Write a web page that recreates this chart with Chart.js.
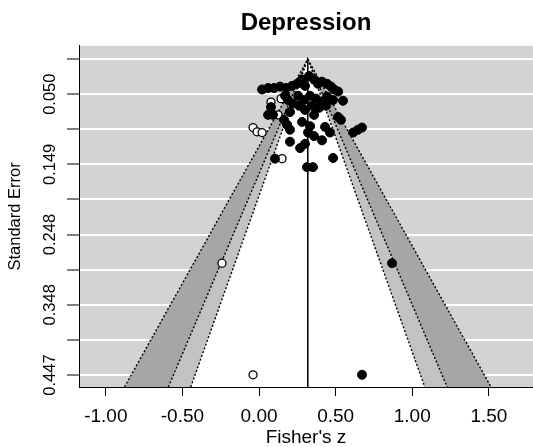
<!DOCTYPE html>
<html>
<head>
<meta charset="utf-8">
<script src="https://cdn.jsdelivr.net/npm/chart.js@4"></script>
<style>
html,body{margin:0;padding:0;background:#fff;}
</style>
</head>
<body>
<canvas id="Chart" width="533" height="447"></canvas>
<script>
// observed studies (Fisher's z / standard error)
const obsZ = [0.020, 0.059, 0.098, 0.137, 0.176, 0.215, 0.248, 0.281, 0.300, 0.326,
	0.359, 0.385, 0.411, 0.444, 0.470, 0.490, 0.516, 0.548, 0.078, 0.170,
	0.189, 0.222, 0.202, 0.255, 0.294, 0.333, 0.372, 0.411, 0.444, 0.483,
	0.346, 0.392, 0.437, 0.300, 0.261, 0.516, 0.359, 0.059, 0.091, 0.183,
	0.281, 0.333, 0.320, 0.359, 0.431, 0.463, 0.535, 0.614, 0.646, 0.672,
	0.202, 0.268, 0.300, 0.104, 0.483, 0.313, 0.352, 0.202, 0.163, 0.411,
	0.868, 0.672];
const obsSE = [0.043, 0.041, 0.041, 0.039, 0.041, 0.038, 0.035, 0.029, 0.038, 0.024,
	0.029, 0.035, 0.032, 0.035, 0.039, 0.043, 0.046, 0.059, 0.068, 0.052,
	0.058, 0.063, 0.075, 0.052, 0.058, 0.052, 0.056, 0.061, 0.053, 0.058,
	0.066, 0.069, 0.066, 0.072, 0.066, 0.082, 0.079, 0.079, 0.079, 0.093,
	0.089, 0.095, 0.104, 0.109, 0.096, 0.104, 0.086, 0.104, 0.100, 0.097,
	0.117, 0.126, 0.120, 0.141, 0.140, 0.153, 0.153, 0.100, 0.086, 0.115,
	0.289, 0.447];
// imputed studies (trim and fill)
const fillZ = [0.078, 0.144, 0.124, -0.039, -0.013, 0.020, 0.150, -0.242, -0.039];
const fillSE = [0.061, 0.056, 0.079, 0.097, 0.103, 0.104, 0.141, 0.289, 0.447];

const center = 0.318;
// 90%, 95%, 99% contours
const contourZ = [1.645, 1.96, 2.576];
const contourColors = ['#ffffff', '#c2c2c2', '#a6a6a6'];

const xTicks = [-1.0, -0.5, 0.0, 0.5, 1.0, 1.5];
const yTicks = [0, 0.0497, 0.0994, 0.1491, 0.1988, 0.2485, 0.2982, 0.3479, 0.3976, 0.4473];
const yTickLabels = ['', '0.050', '', '0.149', '', '0.248', '', '0.348', '', '0.447'];

const xMin = -1.175, xMax = 1.788;
const yMin = -0.0188, yMax = 0.4643;

Chart.defaults.font.family = "'Liberation Sans', Arial, sans-serif";
Chart.defaults.color = '#000';

//灰色の背景
const plotBg = {
	id: 'plotBg',
	beforeDraw(chart) {
		const {ctx, chartArea: a} = chart;
		ctx.save();
		ctx.fillStyle = '#d3d3d3';
		ctx.fillRect(a.left, a.top, a.right - a.left, a.bottom - a.top);
		ctx.restore();
	}
};

let datasets = [];
datasets.push({
	label: 'observed',
	data: obsZ.map((z, i) => ({x: z, y: obsSE[i]})),
	backgroundColor: '#000',
	borderColor: '#000',
	borderWidth: 1,
	pointRadius: 4.5,
	order: 0,
});
datasets.push({
	label: 'imputed',
	data: fillZ.map((z, i) => ({x: z, y: fillSE[i]})),
	backgroundColor: '#fff',
	borderColor: '#000',
	borderWidth: 1.3,
	pointRadius: 4,
	order: 0,
});
datasets.push({
	label: 'ref',
	data: [{x: center, y: 0}, {x: center, y: yMax}],
	showLine: true,
	borderColor: '#000',
	borderWidth: 1,
	pointRadius: 0,
	order: 1,
});
contourZ.forEach((z, k) => {
	datasets.push({
		label: 'contour' + k,
		data: [{x: center - z * yMax, y: yMax}, {x: center, y: 0}, {x: center + z * yMax, y: yMax}],
		showLine: true,
		borderColor: '#000',
		borderWidth: 1.4,
		borderDash: [2, 2],
		backgroundColor: contourColors[k],
		fill: {value: yMax},
		pointRadius: 0,
		order: 2 + k,
	});
});

let ctx = document.getElementById('Chart');
let config = {
	type: 'scatter',
	data: {datasets: datasets},
	options: {
		responsive: false,
		animation: false,
		events: [],
		layout: {padding: 0, autoPadding: false},
		plugins: {
			legend: {display: false},
			tooltip: {enabled: false},
			title: {
				display: true,
				text: 'Depression',
				fullSize: false,
				font: {size: 24, weight: 'bold'},
				padding: {top: 9, bottom: 8},
			},
		},
		scales: {
			x: {
				type: 'linear',
				min: xMin,
				max: xMax,
				afterBuildTicks: s => { s.ticks = xTicks.map(v => ({value: v})); },
				afterFit: s => { s.height = 60; s.paddingLeft = 0; s.paddingRight = 0; },
				ticks: {
					padding: 9,
					font: {size: 19},
					maxRotation: 0,
					autoSkip: false,
					callback: v => v.toFixed(2),
				},
				grid: {drawOnChartArea: false, tickColor: '#000', tickLength: 9},
				border: {color: '#000', width: 1},
				title: {
					display: true,
					text: "Fisher's z",
					font: {size: 19, lineHeight: 1},
					padding: {top: 0, bottom: 0},
				},
			},
			y: {
				type: 'linear',
				reverse: true,
				min: yMin,
				max: yMax,
				afterBuildTicks: s => { s.ticks = yTicks.map(v => ({value: v})); },
				afterFit: s => { s.width = 79; s.paddingTop = 0; s.paddingBottom = 0; },
				ticks: {
					minRotation: 90,
					maxRotation: 90,
					crossAlign: 'center',
					padding: -4,
					font: {size: 16.5},
					autoSkip: false,
					callback: (v, i) => yTickLabels[i],
				},
				grid: {color: '#fff', lineWidth: 2, tickColor: '#000', tickLength: 12, tickWidth: 1},
				border: {color: '#000', width: 1},
				title: {
					display: true,
					text: 'Standard Error',
					font: {size: 16.5},
					padding: {top: 6, bottom: 0},
				},
			},
		},
	},
	plugins: [plotBg],
};
let chart = new Chart(ctx, config);
</script>
</body>
</html>
